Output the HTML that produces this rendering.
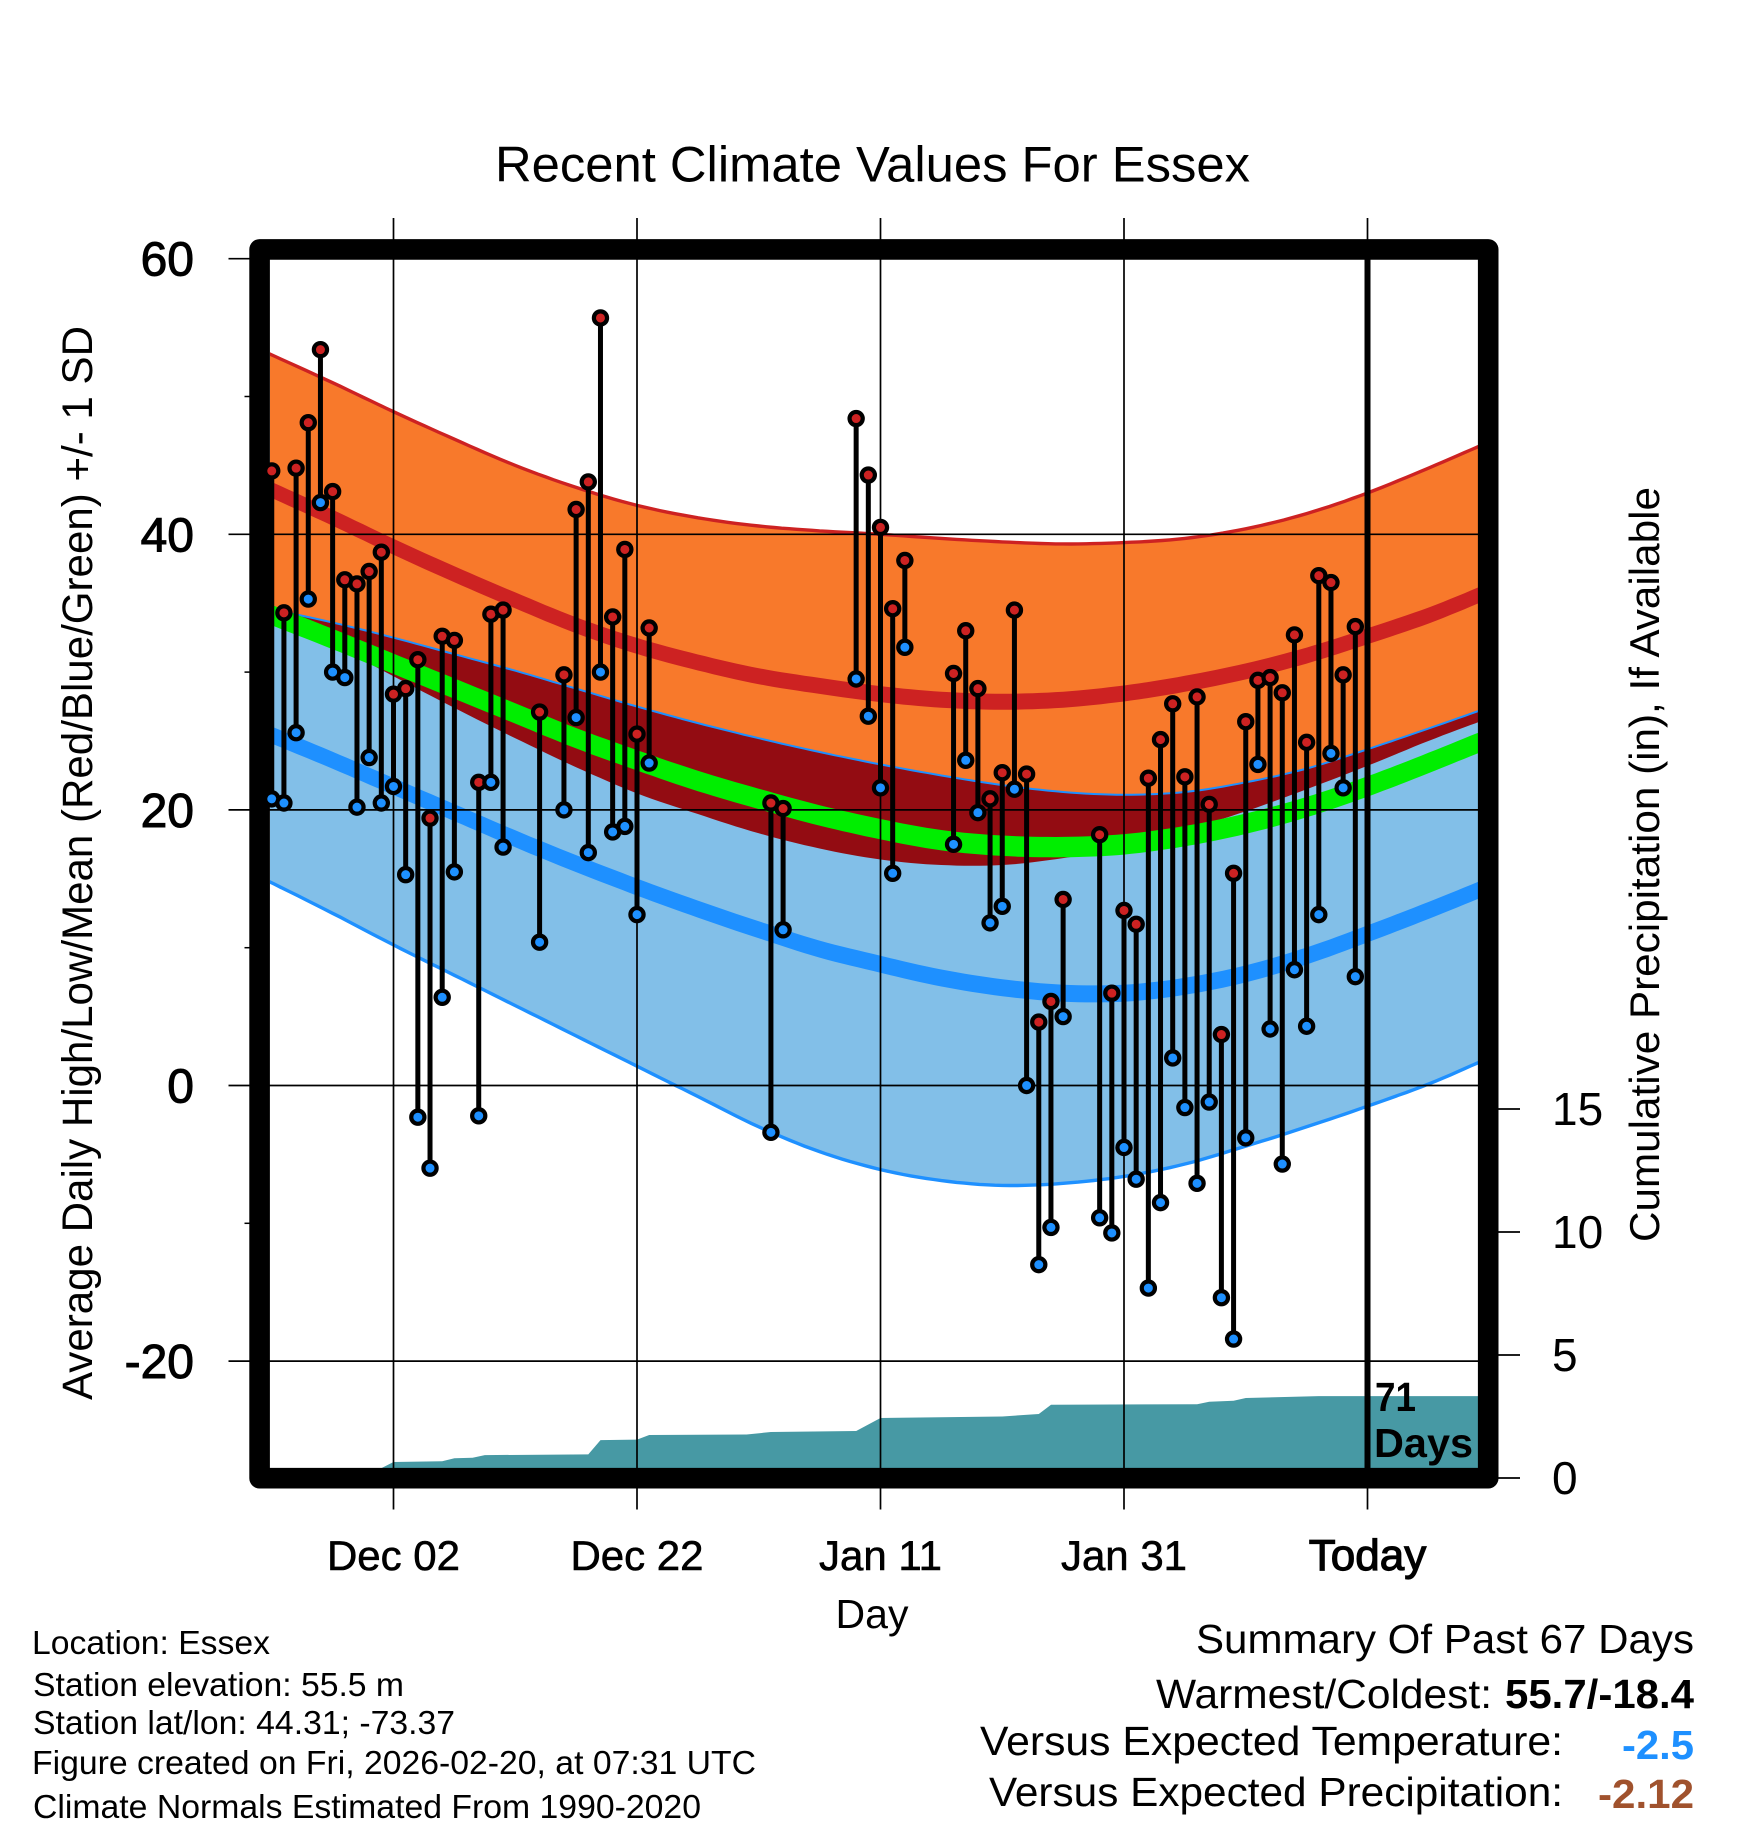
<!DOCTYPE html>
<html lang="en">
<head>
<meta charset="utf-8">
<title>Recent Climate Values For Essex</title>
<style>
  html, body { margin: 0; padding: 0; background: #fff; }
  svg { display: block; position: absolute; left: 0; top: 0; }
  text { font-family: "Liberation Sans", sans-serif; fill: #000; }
</style>
</head>
<body>
<svg id="chart" xmlns="http://www.w3.org/2000/svg" width="1748" height="1828" viewBox="0 0 1748 1828">
  <defs>
    <clipPath id="plot-clip"><rect x="270" y="260" width="1208" height="1208"/></clipPath>
  </defs>
  <rect x="0" y="0" width="1748" height="1828" fill="#fff"/>
  <g id="bands" clip-path="url(#plot-clip)"></g>
  <g id="grid"></g>
  <rect x="259.6" y="249.4" width="1228.6" height="1228.8" fill="none" stroke="#000" stroke-width="20.6" stroke-linejoin="round"/>
  <g id="today"></g>
  <g id="marks"></g>
  <g id="labels"></g>

  <text x="495" y="181.5" font-size="50" textLength="755" lengthAdjust="spacingAndGlyphs">Recent Climate Values For Essex</text>
  <text transform="translate(92 1400) rotate(-90)" font-size="43" textLength="1074" lengthAdjust="spacingAndGlyphs">Average Daily High/Low/Mean (Red/Blue/Green) +/- 1 SD</text>
  <text transform="translate(1659 1242) rotate(-90)" font-size="42" textLength="755" lengthAdjust="spacingAndGlyphs">Cumulative Precipitation (in), If Available</text>
  <text x="872" y="1628" font-size="41" text-anchor="middle">Day</text>

  <text x="1375" y="1411" font-size="41" font-weight="bold" textLength="41" lengthAdjust="spacingAndGlyphs">71</text>
  <text x="1374" y="1457" font-size="41" font-weight="bold" textLength="99" lengthAdjust="spacingAndGlyphs">Days</text>

  <g>
    <text x="32" y="1654" font-size="33" textLength="238" lengthAdjust="spacingAndGlyphs">Location: Essex</text>
    <text x="33" y="1696" font-size="33" textLength="371" lengthAdjust="spacingAndGlyphs">Station elevation: 55.5 m</text>
    <text x="33" y="1734" font-size="33" textLength="422" lengthAdjust="spacingAndGlyphs">Station lat/lon: 44.31; -73.37</text>
    <text x="32" y="1774" font-size="33" textLength="724" lengthAdjust="spacingAndGlyphs">Figure created on Fri, 2026-02-20, at 07:31 UTC</text>
    <text x="33" y="1818" font-size="33" textLength="668" lengthAdjust="spacingAndGlyphs">Climate Normals Estimated From 1990-2020</text>
  </g>

  <g>
    <text x="1196" y="1653" font-size="41" textLength="498" lengthAdjust="spacingAndGlyphs">Summary Of Past 67 Days</text>
    <text x="1156" y="1708" font-size="41" textLength="336" lengthAdjust="spacingAndGlyphs">Warmest/Coldest:</text>
    <text x="1505" y="1708" font-size="41" font-weight="bold" textLength="189" lengthAdjust="spacingAndGlyphs">55.7/-18.4</text>
    <text x="980" y="1755" font-size="41" textLength="583" lengthAdjust="spacingAndGlyphs">Versus Expected Temperature:</text>
    <text x="1622" y="1759" font-size="41" font-weight="bold" textLength="72" lengthAdjust="spacingAndGlyphs" style="fill:#1e90ff">-2.5</text>
    <text x="989" y="1806" font-size="41" textLength="574" lengthAdjust="spacingAndGlyphs">Versus Expected Precipitation:</text>
    <text x="1598" y="1808" font-size="41" font-weight="bold" textLength="96" lengthAdjust="spacingAndGlyphs" style="fill:#a0522d">-2.12</text>
  </g>
</svg>

<script>
// Observed daily data (days are offsets from Dec 02)
const obsDays = [-10,-9,-8,-7,-6,-5,-4,-3,-2,-1,0,1,2,3,4,5,7,8,9,12,14,15,16,17,18,19,20,21,31,32,38,39,40,41,42,46,47,48,49,50,51,52,53,54,55,58,59,60,61,62,63,64,65,66,67,68,69,70,71,72,73,74,75,76,77,78,79];
const obsHighs = [44.6,34.3,44.8,48.1,53.4,43.1,36.7,36.4,37.3,38.7,28.4,28.8,30.9,19.4,32.6,32.3,22.0,34.2,34.5,27.1,29.8,41.8,43.8,55.7,34.0,38.9,25.5,33.2,20.5,20.1,48.4,44.3,40.5,34.6,38.1,29.9,33.0,28.8,20.8,22.7,34.5,22.6,4.6,6.1,13.5,18.2,6.7,12.7,11.7,22.3,25.1,27.7,22.4,28.2,20.4,3.7,15.4,26.4,29.4,29.6,28.5,32.7,24.9,37.0,36.5,29.8,33.3];
const obsLows = [20.8,20.5,25.6,35.3,42.3,30.0,29.6,20.2,23.8,20.5,21.7,15.3,-2.3,-6.0,6.4,15.5,-2.2,22.0,17.3,10.4,20.0,26.7,16.9,30.0,18.4,18.8,12.4,23.4,-3.4,11.3,29.5,26.8,21.6,15.4,31.8,17.5,23.6,19.8,11.8,13.0,21.5,0.0,-13.0,-10.3,5.0,-9.6,-10.7,-4.5,-6.8,-14.7,-8.5,2.0,-1.6,-7.1,-1.2,-15.4,-18.4,-3.8,23.3,4.1,-5.7,8.4,4.3,12.4,24.1,21.6,7.9];

// Climate normals
const normalDays = [-10.2,-5,0,5,10,15,20,25,30,35,40,45,50,55,60,65,70,75,80,85,89.2];
const highPlusSd = [53.1,51.0,48.9,46.9,45.0,43.4,42.1,41.2,40.6,40.25,40.0,39.7,39.45,39.3,39.4,39.7,40.4,41.5,43.0,44.8,46.4];
const highMean = [43.3,41.2,39.1,37.1,35.2,33.4,31.9,30.7,29.7,29.0,28.4,28.0,27.85,28.0,28.45,29.15,30.05,31.2,32.6,34.1,35.6];
const highMinusSd = [34.3,32.0,29.7,27.4,25.2,23.1,21.2,19.7,18.3,17.2,16.4,16.0,16.0,16.5,17.3,18.5,19.9,21.5,23.2,25.0,26.4];
const overallMean = [34.2,32.4,30.6,28.8,27.0,25.2,23.6,22.1,20.8,19.6,18.6,17.8,17.4,17.3,17.5,18.1,19.0,20.2,21.7,23.4,24.9];
const lowPlusSd = [34.6,33.6,32.5,31.3,30.1,28.8,27.5,26.3,25.2,24.2,23.3,22.5,21.8,21.3,21.1,21.3,22.0,23.0,24.4,25.9,27.2];
const lowMean = [25.5,23.6,21.7,19.8,17.9,16.1,14.4,12.8,11.3,9.9,8.8,7.8,7.1,6.7,6.7,7.2,8.1,9.4,11.0,12.7,14.2];
const lowMinusSd = [14.8,12.5,10.2,8.0,5.8,3.6,1.4,-0.8,-3.0,-4.8,-6.1,-6.9,-7.25,-7.1,-6.6,-5.7,-4.4,-3.0,-1.5,0.1,1.7];

// Cumulative precipitation
const precipDays = [-10.2,-2,-1,0,4,5,6.5,7.5,16,17,20,21,29,31,38,40,50,53,54,66,67,69,70,76,89.2];
const precipTotals = [0,0,0.4,0.65,0.68,0.8,0.82,0.93,0.96,1.54,1.56,1.75,1.77,1.87,1.91,2.44,2.5,2.6,2.98,3.0,3.1,3.14,3.25,3.33,3.33];

// Axis ticks
const tempTicks = [60,40,20,0,-20];
const tempMinorTicks = [50,30,10,-10];
const precipTicks = [15,10,5,0];
const dateTickDays = [0,20,40,60,80];
const dateTickLabels = ["Dec 02","Dec 22","Jan 11","Jan 31","Today"];

const SVG_NS = "http://www.w3.org/2000/svg";
function xDay(d) { return 393.5 + 12.175 * d; }
function yTemp(t) { return 1085.5 - 13.78 * t; }
function yPrecip(p) { return 1478 - 24.6 * p; }

function make(tag, parent, attrs) {
  const el = document.createElementNS(SVG_NS, tag);
  for (const k in attrs) el.setAttribute(k, attrs[k]);
  parent.appendChild(el);
  return el;
}

function curvePoints(days, values) {
  const pts = days.map((d, i) => [xDay(d), yTemp(values[i])]);
  const out = [];
  for (let i = 0; i < pts.length - 1; i++) {
    const p0 = pts[Math.max(i - 1, 0)], p1 = pts[i], p2 = pts[i + 1], p3 = pts[Math.min(i + 2, pts.length - 1)];
    for (let s = 0; s < 8; s++) {
      const t = s / 8, t2 = t * t, t3 = t2 * t;
      out.push([
        0.5 * (2 * p1[0] + (p2[0] - p0[0]) * t + (2 * p0[0] - 5 * p1[0] + 4 * p2[0] - p3[0]) * t2 + (3 * p1[0] - p0[0] - 3 * p2[0] + p3[0]) * t3),
        0.5 * (2 * p1[1] + (p2[1] - p0[1]) * t + (2 * p0[1] - 5 * p1[1] + 4 * p2[1] - p3[1]) * t2 + (3 * p1[1] - p0[1] - 3 * p2[1] + p3[1]) * t3)
      ]);
    }
  }
  out.push(pts[pts.length - 1]);
  return out;
}
function toPath(pts) {
  return pts.map((p, i) => (i ? "L" : "M") + p[0].toFixed(1) + " " + p[1].toFixed(1)).join(" ");
}
function bandPath(upper, lower) {
  return toPath(curvePoints(normalDays, upper).concat(curvePoints(normalDays, lower).reverse())) + " Z";
}
function linePath(values) {
  return toPath(curvePoints(normalDays, values));
}
function ribbonPath(values, half) {
  const c = curvePoints(normalDays, values);
  const top = c.map(p => [p[0], p[1] - half]);
  const bottom = c.map(p => [p[0], p[1] + half]).reverse();
  return toPath(top.concat(bottom)) + " Z";
}

const bands = document.getElementById("bands");

const highBand = make("path", bands, { d: bandPath(highPlusSd, highMinusSd), fill: "#f8792b" });



const lowBand = make("path", bands, { d: bandPath(lowPlusSd, lowMinusSd), fill: "#82bfe8" });



const overlapBand = make("path", bands, { d: bandPath(lowPlusSd, highMinusSd), fill: "#930c12" });



const highMeanLine = make("path", bands, { d: ribbonPath(highMean, 8), fill: "#cd2222" });



const lowMeanLine = make("path", bands, { d: ribbonPath(lowMean, 8.5), fill: "#1e90ff" });



const lowPlusLine = make("path", bands, { d: linePath(lowPlusSd), fill: "none", stroke: "#1e90ff", "stroke-width": 2 });



const meanLine = make("path", bands, { d: ribbonPath(overallMean, 10.2), fill: "#00ee00" });



const highPlusLine = make("path", bands, { d: linePath(highPlusSd), fill: "none", stroke: "#cd2222", "stroke-width": 3.4 });



const lowMinusLine = make("path", bands, { d: linePath(lowMinusSd), fill: "none", stroke: "#1e90ff", "stroke-width": 3.4 });



const precipTop = precipDays.map((d, i) => [xDay(d), yPrecip(precipTotals[i])]);
const precipOutline = precipTop.concat([[xDay(precipDays[precipDays.length - 1]), yPrecip(0)], [xDay(precipDays[0]), yPrecip(0)]]);
const precipArea = make("path", bands, { d: toPath(precipOutline) + " Z", fill: "#4799a4" });



const grid = document.getElementById("grid");
tempTicks.forEach(function (t) {
  const line = make("line", grid, { x1: 228.5, x2: 1478, y1: yTemp(t), y2: yTemp(t), stroke: "#000", "stroke-width": 1.7 });
  
  
});
tempMinorTicks.forEach(function (t) {
  const line = make("line", grid, { x1: 244.5, x2: 252, y1: yTemp(t), y2: yTemp(t), stroke: "#000", "stroke-width": 1.5 });
  
  
});
dateTickDays.forEach(function (d) {
  const line = make("line", grid, { x1: xDay(d), x2: xDay(d), y1: 218, y2: 1509.5, stroke: "#000", "stroke-width": 1.7 });
  
  
});
precipTicks.forEach(function (p) {
  const line = make("line", grid, { x1: 1495, x2: 1520, y1: yPrecip(p), y2: yPrecip(p), stroke: "#000", "stroke-width": 1.7 });
  
  
});

const todayGroup = document.getElementById("today");
const todayLine = make("line", todayGroup, { x1: xDay(80), x2: xDay(80), y1: 255, y2: 1472, stroke: "#000", "stroke-width": 6 });



const marks = document.getElementById("marks");
obsDays.forEach(function (d, i) {
  const x = xDay(d);
  const stem = make("line", marks, { x1: x, x2: x, y1: yTemp(obsHighs[i]), y2: yTemp(obsLows[i]), stroke: "#000", "stroke-width": 5 });
  
  
});
obsDays.forEach(function (d, i) {
  const x = xDay(d);
  const lowDot = make("circle", marks, { cx: x, cy: yTemp(obsLows[i]), r: 6.6, fill: "#1e90ff", stroke: "#000", "stroke-width": 4.2 });
  
  
  const highDot = make("circle", marks, { cx: x, cy: yTemp(obsHighs[i]), r: 6.6, fill: "#cd2222", stroke: "#000", "stroke-width": 4.2 });
  
  
});

const labels = document.getElementById("labels");
tempTicks.forEach(function (t) {
  const label = make("text", labels, { x: 194, y: yTemp(t) + 17, "font-size": 48, "text-anchor": "end", stroke: "#000", "stroke-width": 1 });
  label.textContent = String(t);
  
  
});
precipTicks.forEach(function (p) {
  const label = make("text", labels, { x: 1552, y: yPrecip(p) + 16, "font-size": 46 });
  label.textContent = String(p);
  
  
});
dateTickDays.forEach(function (d, i) {
  const label = make("text", labels, { x: xDay(d), y: 1570, "font-size": i === 4 ? 44 : 42, "text-anchor": "middle", stroke: "#000", "stroke-width": i === 4 ? 1.2 : 0.6 });
  label.textContent = dateTickLabels[i];
  
  
});
</script>
</body>
</html>
